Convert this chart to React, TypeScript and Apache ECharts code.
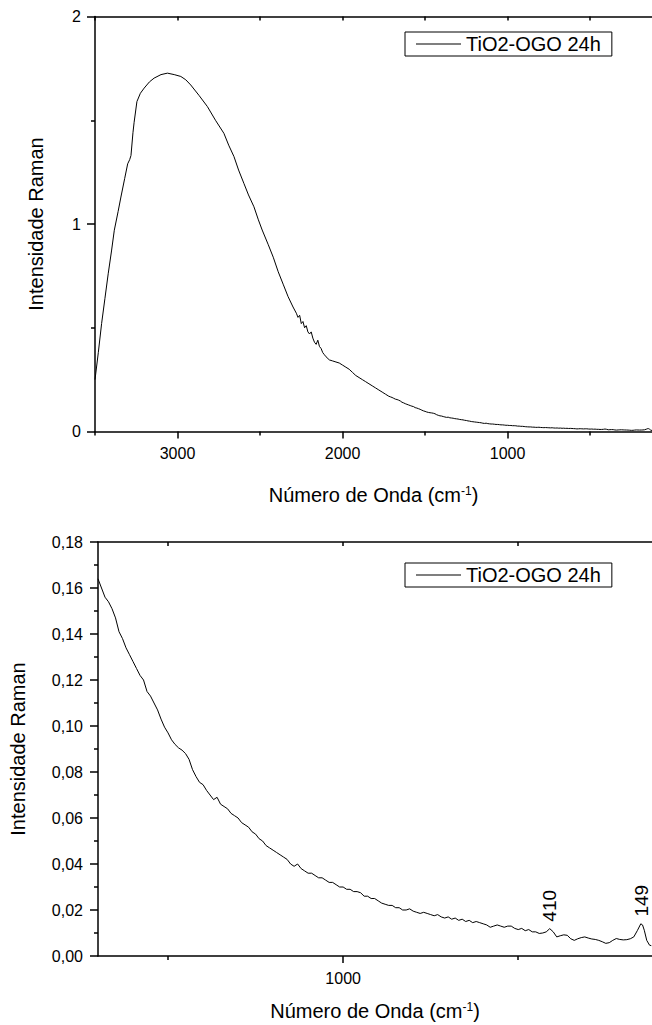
import React, { useEffect, useRef } from 'react';
import * as echarts from 'echarts';

const SERIES_NAME = 'TiO2-OGO 24h';
const FONT = "'Liberation Sans', Arial, Helvetica, sans-serif";

// High-wavenumber part of the spectrum (top chart only), cm-1 and intensity
const highWavenumbers = [
  3500, 3480, 3460, 3440, 3420, 3400, 3383, 3360, 3343, 3320, 3302, 3290, 3282, 3270, 3263, 3246,
  3225, 3202, 3170, 3142, 3100, 3061, 3020, 2980, 2950, 2920, 2870, 2819, 2770, 2719, 2690, 2658,
  2630, 2598, 2570, 2537, 2510, 2487, 2450, 2420, 2390, 2360, 2330, 2300, 2280, 2270, 2260, 2250,
  2240, 2230, 2220, 2210, 2200, 2190, 2180, 2170, 2160, 2150, 2140, 2130, 2120, 2110, 2100, 2080,
  2060, 2040, 2020, 2000, 1980, 1960, 1940, 1920, 1900, 1880, 1860, 1840, 1820, 1800, 1780, 1760,
  1740, 1720, 1710,
];
const highIntensity = [
  0.25, 0.38, 0.52, 0.64, 0.76, 0.87, 0.97, 1.06, 1.13, 1.22, 1.29, 1.31, 1.33, 1.44, 1.49, 1.59,
  1.63, 1.655, 1.685, 1.703, 1.72, 1.727, 1.72, 1.711, 1.695, 1.67, 1.62, 1.566, 1.5, 1.437, 1.38, 1.325,
  1.26, 1.196, 1.14, 1.083, 1.02, 0.971, 0.9, 0.84, 0.77, 0.71, 0.65, 0.6, 0.57, 0.55, 0.56, 0.52,
  0.53, 0.5, 0.51, 0.48, 0.47, 0.48, 0.45, 0.43, 0.42, 0.44, 0.41, 0.4, 0.38, 0.37, 0.36, 0.345,
  0.34, 0.335, 0.33, 0.32, 0.31, 0.3, 0.285, 0.27, 0.26, 0.25, 0.24, 0.23, 0.22, 0.21, 0.2, 0.19,
  0.18, 0.17, 0.167,
];

// Low-wavenumber part of the spectrum (bottom chart, also tail of top chart)
const lowWavenumbers = [
  1700, 1690, 1680, 1670, 1660, 1650, 1640, 1630, 1620, 1610, 1600, 1590, 1580, 1570, 1560, 1550,
  1540, 1530, 1520, 1510, 1500, 1490, 1480, 1470, 1460, 1450, 1440, 1430, 1420, 1410, 1400, 1390,
  1380, 1370, 1360, 1350, 1340, 1330, 1320, 1310, 1300, 1290, 1280, 1270, 1260, 1250, 1240, 1230,
  1220, 1210, 1200, 1190, 1180, 1170, 1160, 1150, 1140, 1130, 1120, 1110, 1100, 1090, 1080, 1070,
  1060, 1050, 1040, 1030, 1020, 1010, 1000, 990, 980, 970, 960, 950, 940, 930, 920, 910,
  900, 890, 880, 870, 860, 850, 840, 830, 820, 810, 800, 790, 780, 770, 760, 750,
  740, 730, 720, 710, 700, 690, 680, 670, 660, 650, 640, 630, 620, 610, 600, 590,
  580, 570, 560, 550, 540, 530, 520, 510, 500, 490, 480, 470, 460, 450, 440, 430,
  420, 410, 400, 390, 380, 370, 360, 350, 340, 330, 320, 310, 300, 290, 280, 270,
  260, 250, 240, 230, 220, 210, 200, 190, 180, 170, 160, 150, 145, 140, 133, 125,
  120,
];
const lowIntensity = [
  0.164, 0.16, 0.156, 0.154, 0.151, 0.147, 0.141, 0.138, 0.134, 0.131, 0.128, 0.125, 0.122, 0.12, 0.115, 0.113,
  0.11, 0.107, 0.103, 0.0995, 0.097, 0.094, 0.092, 0.0905, 0.0895, 0.088, 0.0855, 0.081, 0.078, 0.0755, 0.0745, 0.072,
  0.07, 0.068, 0.069, 0.066, 0.065, 0.064, 0.062, 0.061, 0.06, 0.058, 0.057, 0.056, 0.054, 0.053, 0.051, 0.05,
  0.048, 0.047, 0.046, 0.045, 0.044, 0.043, 0.042, 0.04, 0.039, 0.04, 0.038, 0.037, 0.036, 0.036, 0.035, 0.034,
  0.034, 0.033, 0.032, 0.032, 0.031, 0.03, 0.03, 0.029, 0.029, 0.028, 0.028, 0.0275, 0.026, 0.026, 0.025, 0.025,
  0.024, 0.023, 0.0225, 0.022, 0.022, 0.021, 0.021, 0.02, 0.02, 0.0205, 0.0195, 0.019, 0.0185, 0.019, 0.0185, 0.018,
  0.0175, 0.018, 0.017, 0.0165, 0.017, 0.016, 0.0165, 0.0155, 0.016, 0.015, 0.0155, 0.0145, 0.015, 0.0145, 0.014, 0.0135,
  0.0125, 0.013, 0.0135, 0.013, 0.0125, 0.013, 0.013, 0.012, 0.0115, 0.012, 0.011, 0.0115, 0.0105, 0.0105, 0.0098, 0.01,
  0.0105, 0.0119, 0.0105, 0.0083, 0.0088, 0.0092, 0.009, 0.0075, 0.0068, 0.0075, 0.008, 0.0083, 0.0078, 0.0074, 0.0072, 0.0068,
  0.0062, 0.0055, 0.0058, 0.0068, 0.0076, 0.0072, 0.007, 0.0071, 0.0075, 0.0083, 0.011, 0.014, 0.0135, 0.0112, 0.0068, 0.0047,
  0.0045,
];

// Annotated peaks (bottom chart)
const peakWavenumbers = [410, 149];
const peakIntensity = [0.0119, 0.0141];

// Axis ticks
const topXMajor = [3000, 2000, 1000];
const topXMinor = [3500, 2500, 1500, 500];
const bottomXMajor = [1000];
const bottomXMinor = [1500, 500];

const zip = (xs: number[], ys: number[]) => xs.map((x, i) => [x, ys[i]]);

const BLACK = '#000';

function xAxes(gridIndex: number, min: number, max: number, major: number[], minor: number[], nameGap: number) {
  const common = { gridIndex, type: 'value', min, max, inverse: true, splitLine: { show: false } };
  return [
    {
      ...common,
      position: 'bottom',
      axisLine: { show: true, onZero: false, lineStyle: { color: BLACK, width: 1.5 } },
      axisTick: { show: true, inside: false, length: 7, customValues: major, lineStyle: { color: BLACK, width: 1.5 } },
      axisLabel: {
        show: true,
        customValues: major,
        margin: 14,
        color: BLACK,
        fontSize: 16,
        fontFamily: FONT,
        formatter: (v: number) => String(v),
      },
      name: '{n|Número de Onda (cm}{s|-1}{n|)}',
      nameLocation: 'middle',
      nameGap,
      nameTextStyle: {
        color: BLACK,
        fontSize: 20,
        fontFamily: FONT,
        rich: {
          n: { fontSize: 20, fontFamily: FONT, color: BLACK },
          s: { fontSize: 12, fontFamily: FONT, color: BLACK, verticalAlign: 'top' },
        },
      },
    },
    {
      ...common,
      position: 'bottom',
      axisLine: { show: false, onZero: false },
      axisTick: { show: true, inside: false, length: 4, customValues: minor, lineStyle: { color: BLACK, width: 1.5 } },
      axisLabel: { show: false },
    },
    {
      ...common,
      position: 'top',
      axisLine: { show: true, onZero: false, lineStyle: { color: BLACK, width: 1.5 } },
      axisTick: { show: true, inside: true, length: 4, customValues: [...major, ...minor], lineStyle: { color: BLACK, width: 1.5 } },
      axisLabel: { show: false },
    },
  ];
}

function yAxis(gridIndex: number, max: number, interval: number, fmt: (v: number) => string, nameGap: number, margin: number) {
  return {
    gridIndex,
    type: 'value',
    position: 'left',
    min: 0,
    max,
    interval,
    splitLine: { show: false },
    axisLine: { show: true, onZero: false, lineStyle: { color: BLACK, width: 1.5 } },
    axisTick: { show: true, inside: false, length: 8, lineStyle: { color: BLACK, width: 1.5 } },
    minorTick: { show: true, splitNumber: 2, length: 4, lineStyle: { color: BLACK, width: 1.5 } },
    axisLabel: { color: BLACK, fontSize: 16, fontFamily: FONT, margin, formatter: fmt },
    name: 'Intensidade Raman',
    nameLocation: 'middle',
    nameRotate: 90,
    nameGap,
    nameTextStyle: { color: BLACK, fontSize: 20, fontFamily: FONT },
  };
}

function legend(top: number) {
  return {
    data: [SERIES_NAME],
    left: 405,
    top,
    orient: 'horizontal',
    selectedMode: false,
    borderColor: BLACK,
    borderWidth: 1,
    borderRadius: 0,
    padding: [2, 11, 2, 11],
    icon: 'rect',
    itemWidth: 45,
    itemHeight: 1,
    itemStyle: { color: BLACK, borderWidth: 0 },
    textStyle: { color: BLACK, fontSize: 20, fontFamily: FONT },
  };
}

export default function App() {
  const ref = useRef<HTMLDivElement>(null);

  useEffect(() => {
    if (!ref.current) return;
    const chart = echarts.init(ref.current, null, { renderer: 'svg' });
    const lineStyle = { color: BLACK, width: 1 };
    const option: any = {
      animation: false,
      backgroundColor: '#fff',
      grid: [
        { left: 95, top: 16.5, right: 0, height: 415 },
        { left: 97, top: 542, right: 0, height: 414 },
      ],
      legend: [legend(32), legend(563)],
      xAxis: [
        ...xAxes(0, 125, 3500, topXMajor, topXMinor, 53),
        ...xAxes(1, 118, 1700, bottomXMajor, bottomXMinor, 45),
      ],
      yAxis: [
        yAxis(0, 2, 1, (v: number) => String(v), 49, 14),
        yAxis(1, 0.18, 0.02, (v: number) => v.toFixed(2).replace('.', ','), 70, 15),
      ],
      series: [
        {
          name: SERIES_NAME,
          type: 'line',
          xAxisIndex: 0,
          yAxisIndex: 0,
          data: zip(highWavenumbers.concat(lowWavenumbers), highIntensity.concat(lowIntensity)),
          showSymbol: false,
          symbol: 'none',
          lineStyle,
          itemStyle: { color: BLACK },
        },
        {
          name: SERIES_NAME,
          type: 'line',
          xAxisIndex: 3,
          yAxisIndex: 1,
          data: zip(lowWavenumbers, lowIntensity),
          showSymbol: false,
          symbol: 'none',
          lineStyle,
          itemStyle: { color: BLACK },
          markPoint: {
            symbol: 'circle',
            symbolSize: 0,
            silent: true,
            data: peakWavenumbers.map((w, i) => ({ coord: [w, peakIntensity[i]], value: w })),
            label: {
              show: true,
              position: 'top',
              distance: 7,
              rotate: 90,
              align: 'left',
              verticalAlign: 'middle',
              formatter: '{c}',
              fontSize: 19,
              color: BLACK,
              fontFamily: FONT,
            },
          },
        },
      ],
    };
    chart.setOption(option);
    return () => chart.dispose();
  }, []);

  return (
    <div
      ref={ref}
      style={{ position: 'absolute', left: 0, top: 0, width: 652, height: 1025, background: '#fff' }}
    />
  );
}
